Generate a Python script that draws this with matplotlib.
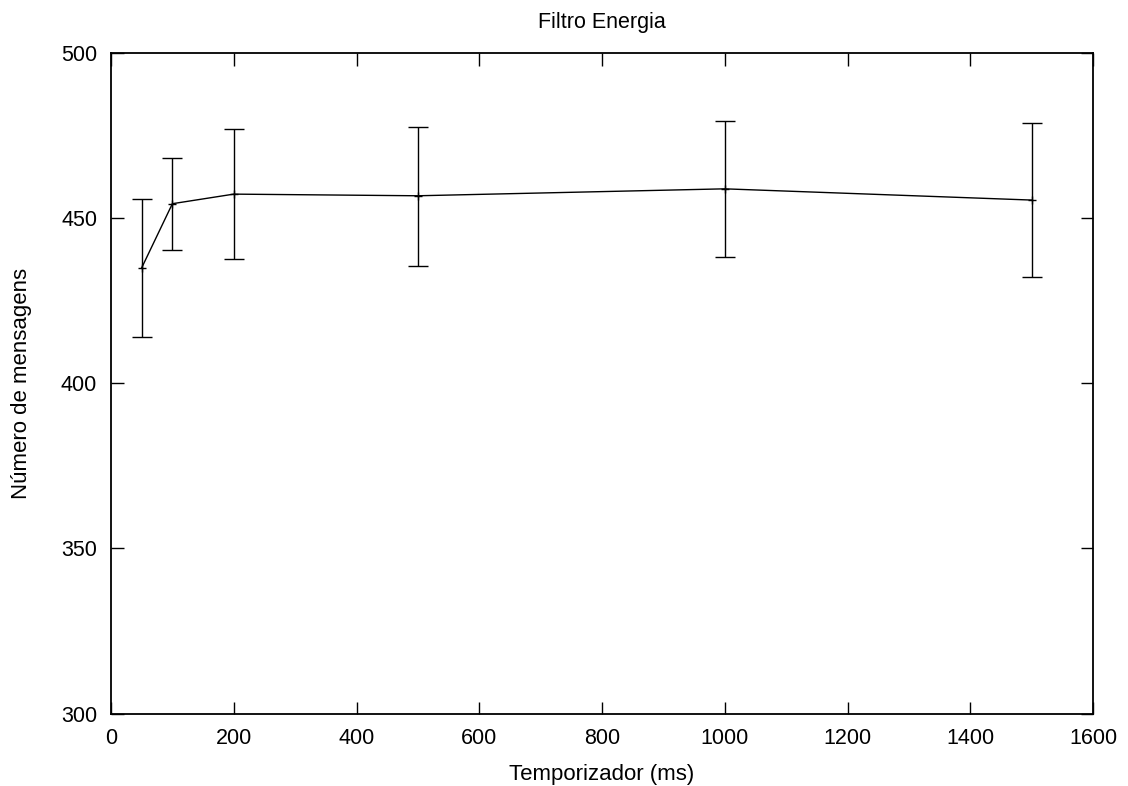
import matplotlib
matplotlib.use("Agg")
import matplotlib.pyplot as plt

plt.rcParams["font.family"] = ["Liberation Sans", "DejaVu Sans"]

# === Data ===
temporizador = [50, 100, 200, 500, 1000, 1500]
mensagens = [434.9, 454.3, 457.2, 456.7, 458.8, 455.4]
erro_inf = [414.0, 440.4, 437.5, 435.5, 438.2, 432.0]
erro_sup = [455.7, 468.0, 476.9, 477.5, 479.3, 478.7]

yerr = [[m - lo for m, lo in zip(mensagens, erro_inf)],
        [hi - m for m, hi in zip(mensagens, erro_sup)]]

fig = plt.figure(figsize=(11.28, 7.86), dpi=100)
ax = fig.add_axes([0.0984, 0.092, 0.8706, 0.841])

ax.errorbar(temporizador, mensagens, yerr=yerr, color="black", lw=1.0,
            elinewidth=1.0, capsize=7, capthick=1.0, marker="+",
            markersize=6, markeredgewidth=1.0)

ax.set_xlim(0, 1600)
ax.set_ylim(300, 500)
ax.set_xticks(range(0, 1601, 200))
ax.set_yticks(range(300, 501, 50))
ax.tick_params(direction="in", length=9, width=1.0, top=True, right=True,
               labelsize=15.5)
ax.tick_params(axis="x", pad=10)
ax.tick_params(axis="y", pad=10)
for s in ax.spines.values():
    s.set_linewidth(1.3)

ax.set_title("Filtro Energia", fontsize=15.5, pad=18)
ax.set_xlabel("Temporizador (ms)", fontsize=16, labelpad=11)
ax.set_ylabel("Número de mensagens", fontsize=16, labelpad=21)

fig.savefig("out.png", dpi=100)
